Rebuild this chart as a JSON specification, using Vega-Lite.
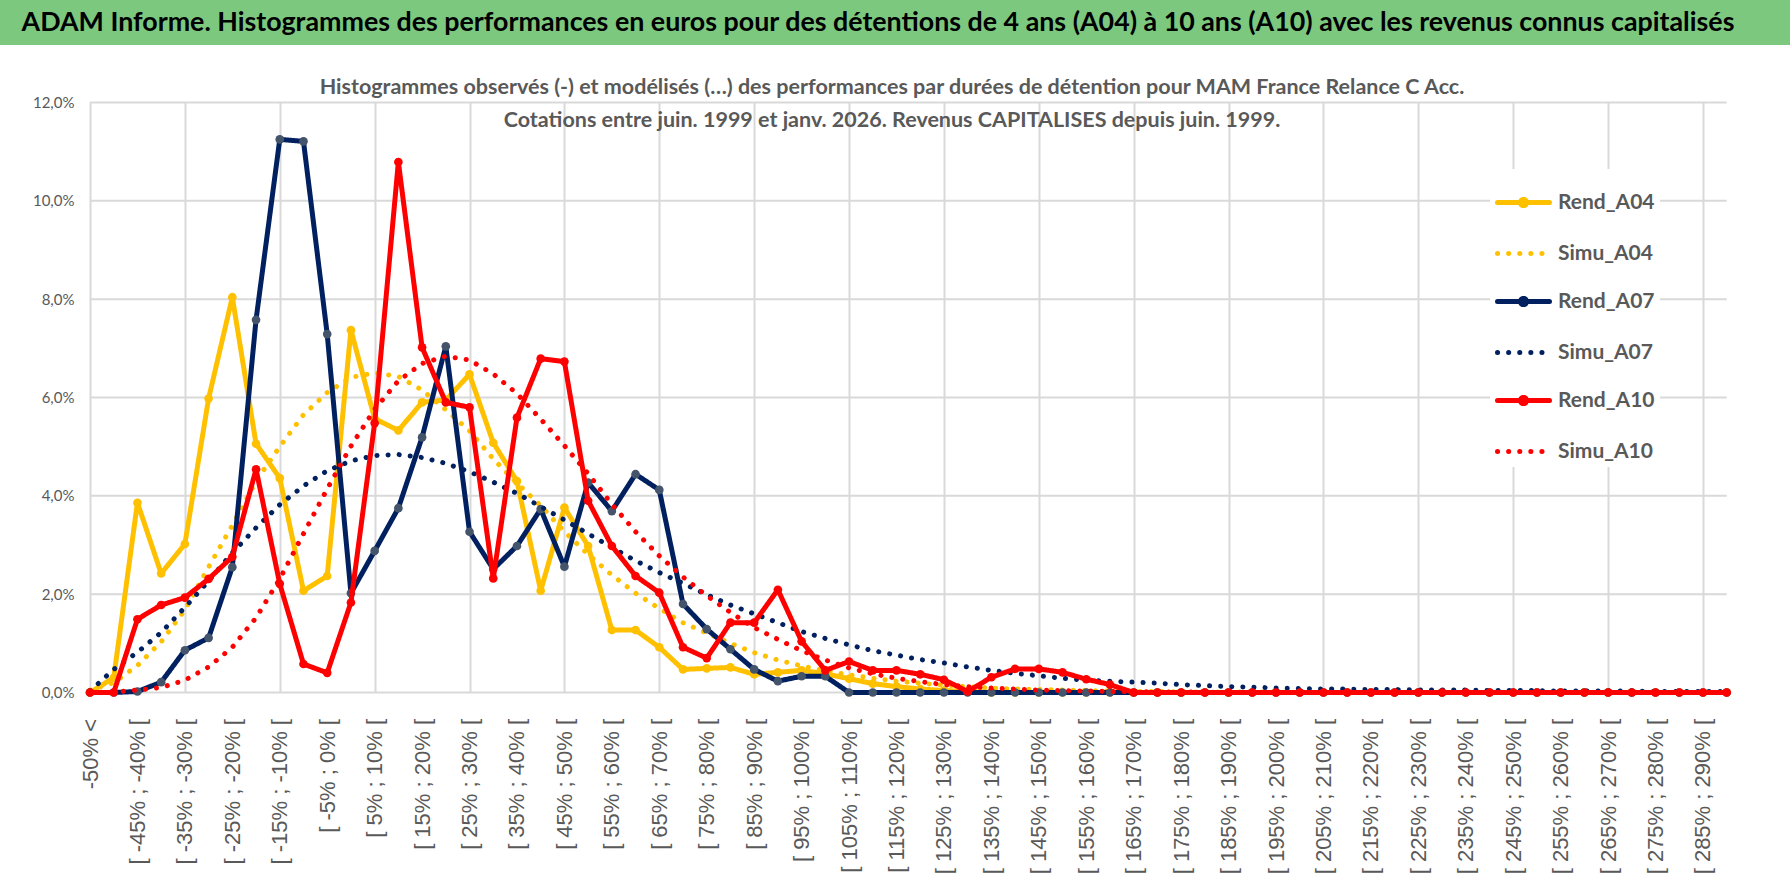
{
  "$schema": "https://vega.github.io/schema/vega-lite/v6.json",
  "background": "white",
  "padding": 0,
  "spacing": 31.5,
  "config": {"view": {"stroke": null}},
  "vconcat": [
    {
      "width": 1790,
      "height": 45,
      "view": {"fill": "#7DC87F", "stroke": null},
      "data": {"values": [{"t": "ADAM Informe. Histogrammes des performances en euros pour des détentions de 4 ans (A04) à 10 ans (A10) avec les revenus connus capitalisés"}]},
      "mark": {"type": "text", "font": "Lato", "fontSize": 26.8, "fontWeight": "bold", "color": "#000000", "align": "center", "baseline": "middle", "dx": -17},
      "encoding": {"text": {"field": "t", "type": "nominal"}}
    },
    {
      "width": 1790,
      "height": 590,
      "title": {
        "text": ["Histogrammes observés (-) et modélisés (…) des performances par durées de détention pour MAM France Relance C Acc.", "Cotations entre juin. 1999 et janv. 2026. Revenus CAPITALISES depuis juin. 1999."],
        "font": "Lato", "fontSize": 21.5, "fontWeight": "bold", "color": "#595959",
        "lineHeight": 33, "offset": -35.5, "frame": "group", "anchor": "middle", "dx": -3
      },
      "encoding": {
        "x": {
          "field": "c", "type": "nominal",
          "sort": ["-50% <","[ -50% ; -45% [","[ -45% ; -40% [","[ -40% ; -35% [","[ -35% ; -30% [","[ -30% ; -25% [","[ -25% ; -20% [","[ -20% ; -15% [","[ -15% ; -10% [","[ -10% ; -5% [","[ -5% ; 0% [","[ 0% ; 5% [","[ 5% ; 10% [","[ 10% ; 15% [","[ 15% ; 20% [","[ 20% ; 25% [","[ 25% ; 30% [","[ 30% ; 35% [","[ 35% ; 40% [","[ 40% ; 45% [","[ 45% ; 50% [","[ 50% ; 55% [","[ 55% ; 60% [","[ 60% ; 65% [","[ 65% ; 70% [","[ 70% ; 75% [","[ 75% ; 80% [","[ 80% ; 85% [","[ 85% ; 90% [","[ 90% ; 95% [","[ 95% ; 100% [","[ 100% ; 105% [","[ 105% ; 110% [","[ 110% ; 115% [","[ 115% ; 120% [","[ 120% ; 125% [","[ 125% ; 130% [","[ 130% ; 135% [","[ 135% ; 140% [","[ 140% ; 145% [","[ 145% ; 150% [","[ 150% ; 155% [","[ 155% ; 160% [","[ 160% ; 165% [","[ 165% ; 170% [","[ 170% ; 175% [","[ 175% ; 180% [","[ 180% ; 185% [","[ 185% ; 190% [","[ 190% ; 195% [","[ 195% ; 200% [","[ 200% ; 205% [","[ 205% ; 210% [","[ 210% ; 215% [","[ 215% ; 220% [","[ 220% ; 225% [","[ 225% ; 230% [","[ 230% ; 235% [","[ 235% ; 240% [","[ 240% ; 245% [","[ 245% ; 250% [","[ 250% ; 255% [","[ 255% ; 260% [","[ 260% ; 265% [","[ 265% ; 270% [","[ 270% ; 275% [","[ 275% ; 280% [","[ 280% ; 285% [","[ 285% ; 290% [","[ 290% ; 295% ["],
          "scale": {
            "type": "point", "padding": 0, "range": [90, 1726.7],
            "domain": ["-50% <","[ -50% ; -45% [","[ -45% ; -40% [","[ -40% ; -35% [","[ -35% ; -30% [","[ -30% ; -25% [","[ -25% ; -20% [","[ -20% ; -15% [","[ -15% ; -10% [","[ -10% ; -5% [","[ -5% ; 0% [","[ 0% ; 5% [","[ 5% ; 10% [","[ 10% ; 15% [","[ 15% ; 20% [","[ 20% ; 25% [","[ 25% ; 30% [","[ 30% ; 35% [","[ 35% ; 40% [","[ 40% ; 45% [","[ 45% ; 50% [","[ 50% ; 55% [","[ 55% ; 60% [","[ 60% ; 65% [","[ 65% ; 70% [","[ 70% ; 75% [","[ 75% ; 80% [","[ 80% ; 85% [","[ 85% ; 90% [","[ 90% ; 95% [","[ 95% ; 100% [","[ 100% ; 105% [","[ 105% ; 110% [","[ 110% ; 115% [","[ 115% ; 120% [","[ 120% ; 125% [","[ 125% ; 130% [","[ 130% ; 135% [","[ 135% ; 140% [","[ 140% ; 145% [","[ 145% ; 150% [","[ 150% ; 155% [","[ 155% ; 160% [","[ 160% ; 165% [","[ 165% ; 170% [","[ 170% ; 175% [","[ 175% ; 180% [","[ 180% ; 185% [","[ 185% ; 190% [","[ 190% ; 195% [","[ 195% ; 200% [","[ 200% ; 205% [","[ 205% ; 210% [","[ 210% ; 215% [","[ 215% ; 220% [","[ 220% ; 225% [","[ 225% ; 230% [","[ 230% ; 235% [","[ 235% ; 240% [","[ 240% ; 245% [","[ 245% ; 250% [","[ 250% ; 255% [","[ 255% ; 260% [","[ 260% ; 265% [","[ 265% ; 270% [","[ 270% ; 275% [","[ 275% ; 280% [","[ 280% ; 285% [","[ 285% ; 290% [","[ 290% ; 295% ["]
          },
          "axis": {
            "title": null, "labelAngle": 270, "labelFont": "Liberation Sans", "labelFontSize": 22, "labelColor": "#595959",
            "labelPadding": 26, "ticks": false, "tickSize": 0, "domain": false, "grid": true, "gridColor": "#D9D9D9", "gridWidth": 2,
            "gridOpacity": {"condition": {"test": "datum.value === '-50% <' || (parseInt(substring(datum.value, 2)) + 55) % 20 === 0", "value": 1}, "value": 0},
            "labelExpr": "datum.value === '-50% <' || (parseInt(substring(datum.value, 2)) + 55) % 10 === 0 ? datum.label : ''",
            "labelOverlap": false, "labelLimit": 300
          }
        },
        "y": {
          "field": "value", "type": "quantitative",
          "scale": {"domain": [0, 12], "nice": false},
          "axis": {
            "title": null, "values": [0, 2, 4, 6, 8, 10, 12], "offset": -90,
            "labelExpr": "replace(format(datum.value, '.1f'), '.', ',') + '%'",
            "labelFont": "Lato", "labelFontSize": 15, "labelColor": "#595959", "labelPadding": 16,
            "ticks": false, "domain": false, "grid": false
          }
        }
      },
      "layer": [
        {
          "data": {"values": [{"value": 0}, {"value": 2}, {"value": 4}, {"value": 6}, {"value": 8}, {"value": 10}, {"value": 12}]},
          "mark": {"type": "rule", "color": "#D9D9D9", "strokeWidth": 2},
          "encoding": {
            "x": {"datum": "-50% <", "type": "nominal"},
            "x2": {"datum": "[ 290% ; 295% ["}
          }
        },
        {
          "data": {"values": [
            {"c":"-50% <","Rend_A04":0,"Simu_A04":0.05,"Rend_A07":0,"Simu_A07":0.03,"Rend_A10":0,"Simu_A10":0},
            {"c":"[ -50% ; -45% [","Rend_A04":0.3,"Simu_A04":0.2,"Rend_A07":0,"Simu_A07":0.47,"Rend_A10":0,"Simu_A10":0.01},
            {"c":"[ -45% ; -40% [","Rend_A04":3.86,"Simu_A04":0.55,"Rend_A07":0.02,"Simu_A07":0.82,"Rend_A10":1.49,"Simu_A10":0.05},
            {"c":"[ -40% ; -35% [","Rend_A04":2.42,"Simu_A04":1.03,"Rend_A07":0.21,"Simu_A07":1.22,"Rend_A10":1.78,"Simu_A10":0.1},
            {"c":"[ -35% ; -30% [","Rend_A04":3.02,"Simu_A04":1.68,"Rend_A07":0.86,"Simu_A07":1.73,"Rend_A10":1.93,"Simu_A10":0.25},
            {"c":"[ -30% ; -25% [","Rend_A04":5.98,"Simu_A04":2.55,"Rend_A07":1.11,"Simu_A07":2.27,"Rend_A10":2.31,"Simu_A10":0.52},
            {"c":"[ -25% ; -20% [","Rend_A04":8.04,"Simu_A04":3.4,"Rend_A07":2.55,"Simu_A07":2.84,"Rend_A10":2.76,"Simu_A10":0.92},
            {"c":"[ -20% ; -15% [","Rend_A04":5.06,"Simu_A04":4.3,"Rend_A07":7.58,"Simu_A07":3.35,"Rend_A10":4.54,"Simu_A10":1.52},
            {"c":"[ -15% ; -10% [","Rend_A04":4.36,"Simu_A04":5.0,"Rend_A07":11.25,"Simu_A07":3.82,"Rend_A10":2.21,"Simu_A10":2.31},
            {"c":"[ -10% ; -5% [","Rend_A04":2.07,"Simu_A04":5.65,"Rend_A07":11.21,"Simu_A07":4.2,"Rend_A10":0.58,"Simu_A10":3.23},
            {"c":"[ -5% ; 0% [","Rend_A04":2.37,"Simu_A04":6.1,"Rend_A07":7.29,"Simu_A07":4.51,"Rend_A10":0.4,"Simu_A10":4.14},
            {"c":"[ 0% ; 5% [","Rend_A04":7.37,"Simu_A04":6.41,"Rend_A07":2.02,"Simu_A07":4.71,"Rend_A10":1.83,"Simu_A10":5.01},
            {"c":"[ 5% ; 10% [","Rend_A04":5.57,"Simu_A04":6.5,"Rend_A07":2.88,"Simu_A07":4.82,"Rend_A10":5.48,"Simu_A10":5.76},
            {"c":"[ 10% ; 15% [","Rend_A04":5.33,"Simu_A04":6.43,"Rend_A07":3.75,"Simu_A07":4.84,"Rend_A10":10.79,"Simu_A10":6.34},
            {"c":"[ 15% ; 20% [","Rend_A04":5.9,"Simu_A04":6.15,"Rend_A07":5.19,"Simu_A07":4.78,"Rend_A10":7.02,"Simu_A10":6.69},
            {"c":"[ 20% ; 25% [","Rend_A04":5.95,"Simu_A04":5.75,"Rend_A07":7.04,"Simu_A07":4.66,"Rend_A10":5.9,"Simu_A10":6.84},
            {"c":"[ 25% ; 30% [","Rend_A04":6.47,"Simu_A04":5.32,"Rend_A07":3.27,"Simu_A07":4.49,"Rend_A10":5.8,"Simu_A10":6.76},
            {"c":"[ 30% ; 35% [","Rend_A04":5.08,"Simu_A04":4.75,"Rend_A07":2.51,"Simu_A07":4.28,"Rend_A10":2.32,"Simu_A10":6.48},
            {"c":"[ 35% ; 40% [","Rend_A04":4.3,"Simu_A04":4.26,"Rend_A07":2.98,"Simu_A07":4.05,"Rend_A10":5.59,"Simu_A10":6.08},
            {"c":"[ 40% ; 45% [","Rend_A04":2.07,"Simu_A04":3.8,"Rend_A07":3.73,"Simu_A07":3.78,"Rend_A10":6.79,"Simu_A10":5.56},
            {"c":"[ 45% ; 50% [","Rend_A04":3.76,"Simu_A04":3.27,"Rend_A07":2.56,"Simu_A07":3.51,"Rend_A10":6.73,"Simu_A10":5.02},
            {"c":"[ 50% ; 55% [","Rend_A04":2.98,"Simu_A04":2.81,"Rend_A07":4.27,"Simu_A07":3.23,"Rend_A10":3.9,"Simu_A10":4.45},
            {"c":"[ 55% ; 60% [","Rend_A04":1.27,"Simu_A04":2.39,"Rend_A07":3.69,"Simu_A07":2.95,"Rend_A10":2.98,"Simu_A10":3.83},
            {"c":"[ 60% ; 65% [","Rend_A04":1.27,"Simu_A04":2.02,"Rend_A07":4.44,"Simu_A07":2.68,"Rend_A10":2.37,"Simu_A10":3.27},
            {"c":"[ 65% ; 70% [","Rend_A04":0.92,"Simu_A04":1.71,"Rend_A07":4.12,"Simu_A07":2.44,"Rend_A10":2.03,"Simu_A10":2.78},
            {"c":"[ 70% ; 75% [","Rend_A04":0.47,"Simu_A04":1.42,"Rend_A07":1.8,"Simu_A07":2.22,"Rend_A10":0.92,"Simu_A10":2.35},
            {"c":"[ 75% ; 80% [","Rend_A04":0.49,"Simu_A04":1.21,"Rend_A07":1.29,"Simu_A07":1.99,"Rend_A10":0.7,"Simu_A10":1.97},
            {"c":"[ 80% ; 85% [","Rend_A04":0.51,"Simu_A04":1.0,"Rend_A07":0.88,"Simu_A07":1.78,"Rend_A10":1.42,"Simu_A10":1.63},
            {"c":"[ 85% ; 90% [","Rend_A04":0.37,"Simu_A04":0.81,"Rend_A07":0.47,"Simu_A07":1.6,"Rend_A10":1.42,"Simu_A10":1.32},
            {"c":"[ 90% ; 95% [","Rend_A04":0.41,"Simu_A04":0.66,"Rend_A07":0.23,"Simu_A07":1.42,"Rend_A10":2.09,"Simu_A10":1.08},
            {"c":"[ 95% ; 100% [","Rend_A04":0.45,"Simu_A04":0.54,"Rend_A07":0.33,"Simu_A07":1.24,"Rend_A10":1.04,"Simu_A10":0.85},
            {"c":"[ 100% ; 105% [","Rend_A04":0.38,"Simu_A04":0.44,"Rend_A07":0.33,"Simu_A07":1.1,"Rend_A10":0.45,"Simu_A10":0.66},
            {"c":"[ 105% ; 110% [","Rend_A04":0.28,"Simu_A04":0.36,"Rend_A07":0,"Simu_A07":0.97,"Rend_A10":0.63,"Simu_A10":0.5},
            {"c":"[ 110% ; 115% [","Rend_A04":0.18,"Simu_A04":0.29,"Rend_A07":0,"Simu_A07":0.85,"Rend_A10":0.45,"Simu_A10":0.38},
            {"c":"[ 115% ; 120% [","Rend_A04":0.12,"Simu_A04":0.23,"Rend_A07":0,"Simu_A07":0.76,"Rend_A10":0.45,"Simu_A10":0.29},
            {"c":"[ 120% ; 125% [","Rend_A04":0.07,"Simu_A04":0.19,"Rend_A07":0,"Simu_A07":0.67,"Rend_A10":0.37,"Simu_A10":0.22},
            {"c":"[ 125% ; 130% [","Rend_A04":0.04,"Simu_A04":0.15,"Rend_A07":0,"Simu_A07":0.6,"Rend_A10":0.26,"Simu_A10":0.16},
            {"c":"[ 130% ; 135% [","Rend_A04":0.02,"Simu_A04":0.12,"Rend_A07":0,"Simu_A07":0.52,"Rend_A10":0.02,"Simu_A10":0.12},
            {"c":"[ 135% ; 140% [","Rend_A04":0,"Simu_A04":0.09,"Rend_A07":0,"Simu_A07":0.45,"Rend_A10":0.31,"Simu_A10":0.09},
            {"c":"[ 140% ; 145% [","Rend_A04":0,"Simu_A04":0.07,"Rend_A07":0,"Simu_A07":0.39,"Rend_A10":0.48,"Simu_A10":0.07},
            {"c":"[ 145% ; 150% [","Rend_A04":0,"Simu_A04":0.06,"Rend_A07":0,"Simu_A07":0.34,"Rend_A10":0.48,"Simu_A10":0.05},
            {"c":"[ 150% ; 155% [","Rend_A04":0,"Simu_A04":0.05,"Rend_A07":0,"Simu_A07":0.29,"Rend_A10":0.41,"Simu_A10":0.04},
            {"c":"[ 155% ; 160% [","Rend_A04":0,"Simu_A04":0.04,"Rend_A07":0,"Simu_A07":0.25,"Rend_A10":0.27,"Simu_A10":0.03},
            {"c":"[ 160% ; 165% [","Rend_A04":0,"Simu_A04":0.03,"Rend_A07":0,"Simu_A07":0.23,"Rend_A10":0.16,"Simu_A10":0.02},
            {"c":"[ 165% ; 170% [","Rend_A04":0,"Simu_A04":0.02,"Rend_A07":0,"Simu_A07":0.21,"Rend_A10":0,"Simu_A10":0.02},
            {"c":"[ 170% ; 175% [","Rend_A04":0,"Simu_A04":0.02,"Rend_A07":0,"Simu_A07":0.19,"Rend_A10":0,"Simu_A10":0.01},
            {"c":"[ 175% ; 180% [","Rend_A04":0,"Simu_A04":0.01,"Rend_A07":0,"Simu_A07":0.16,"Rend_A10":0,"Simu_A10":0.01},
            {"c":"[ 180% ; 185% [","Rend_A04":0,"Simu_A04":0.01,"Rend_A07":0,"Simu_A07":0.14,"Rend_A10":0,"Simu_A10":0.01},
            {"c":"[ 185% ; 190% [","Rend_A04":0,"Simu_A04":0.01,"Rend_A07":0,"Simu_A07":0.12,"Rend_A10":0,"Simu_A10":0},
            {"c":"[ 190% ; 195% [","Rend_A04":0,"Simu_A04":0.01,"Rend_A07":0,"Simu_A07":0.11,"Rend_A10":0,"Simu_A10":0},
            {"c":"[ 195% ; 200% [","Rend_A04":0,"Simu_A04":0.01,"Rend_A07":0,"Simu_A07":0.09,"Rend_A10":0,"Simu_A10":0},
            {"c":"[ 200% ; 205% [","Rend_A04":0,"Simu_A04":0,"Rend_A07":0,"Simu_A07":0.08,"Rend_A10":0,"Simu_A10":0},
            {"c":"[ 205% ; 210% [","Rend_A04":0,"Simu_A04":0,"Rend_A07":0,"Simu_A07":0.07,"Rend_A10":0,"Simu_A10":0},
            {"c":"[ 210% ; 215% [","Rend_A04":0,"Simu_A04":0,"Rend_A07":0,"Simu_A07":0.07,"Rend_A10":0,"Simu_A10":0},
            {"c":"[ 215% ; 220% [","Rend_A04":0,"Simu_A04":0,"Rend_A07":0,"Simu_A07":0.06,"Rend_A10":0,"Simu_A10":0},
            {"c":"[ 220% ; 225% [","Rend_A04":0,"Simu_A04":0,"Rend_A07":0,"Simu_A07":0.06,"Rend_A10":0,"Simu_A10":0},
            {"c":"[ 225% ; 230% [","Rend_A04":0,"Simu_A04":0,"Rend_A07":0,"Simu_A07":0.05,"Rend_A10":0,"Simu_A10":0},
            {"c":"[ 230% ; 235% [","Rend_A04":0,"Simu_A04":0,"Rend_A07":0,"Simu_A07":0.05,"Rend_A10":0,"Simu_A10":0},
            {"c":"[ 235% ; 240% [","Rend_A04":0,"Simu_A04":0,"Rend_A07":0,"Simu_A07":0.05,"Rend_A10":0,"Simu_A10":0},
            {"c":"[ 240% ; 245% [","Rend_A04":0,"Simu_A04":0,"Rend_A07":0,"Simu_A07":0.04,"Rend_A10":0,"Simu_A10":0},
            {"c":"[ 245% ; 250% [","Rend_A04":0,"Simu_A04":0,"Rend_A07":0,"Simu_A07":0.04,"Rend_A10":0,"Simu_A10":0},
            {"c":"[ 250% ; 255% [","Rend_A04":0,"Simu_A04":0,"Rend_A07":0,"Simu_A07":0.04,"Rend_A10":0,"Simu_A10":0},
            {"c":"[ 255% ; 260% [","Rend_A04":0,"Simu_A04":0,"Rend_A07":0,"Simu_A07":0.03,"Rend_A10":0,"Simu_A10":0},
            {"c":"[ 260% ; 265% [","Rend_A04":0,"Simu_A04":0,"Rend_A07":0,"Simu_A07":0.03,"Rend_A10":0,"Simu_A10":0},
            {"c":"[ 265% ; 270% [","Rend_A04":0,"Simu_A04":0,"Rend_A07":0,"Simu_A07":0.03,"Rend_A10":0,"Simu_A10":0},
            {"c":"[ 270% ; 275% [","Rend_A04":0,"Simu_A04":0,"Rend_A07":0,"Simu_A07":0.03,"Rend_A10":0,"Simu_A10":0},
            {"c":"[ 275% ; 280% [","Rend_A04":0,"Simu_A04":0,"Rend_A07":0,"Simu_A07":0.02,"Rend_A10":0,"Simu_A10":0},
            {"c":"[ 280% ; 285% [","Rend_A04":0,"Simu_A04":0,"Rend_A07":0,"Simu_A07":0.02,"Rend_A10":0,"Simu_A10":0},
            {"c":"[ 285% ; 290% [","Rend_A04":0,"Simu_A04":0,"Rend_A07":0,"Simu_A07":0.02,"Rend_A10":0,"Simu_A10":0},
            {"c":"[ 290% ; 295% [","Rend_A04":0,"Simu_A04":0,"Rend_A07":0,"Simu_A07":0.02,"Rend_A10":0,"Simu_A10":0}
          ]},
          "transform": [{"fold": ["Rend_A04","Simu_A04","Rend_A07","Simu_A07","Rend_A10","Simu_A10"], "as": ["series","value"]}],
          "encoding": {
            "color": {
              "field": "series", "type": "nominal",
              "scale": {"domain": ["Rend_A04","Simu_A04","Rend_A07","Simu_A07","Rend_A10","Simu_A10"], "range": ["#FFC000","#FFC000","#002060","#002060","#FF0000","#FF0000"]},
              "legend": {
                "title": null, "orient": "none", "legendX": 1490, "legendY": 169, "padding": 5, "fillColor": "white",
                "symbolType": "stroke", "symbolSize": 2704, "symbolStrokeWidth": 5,
                "labelFont": "Lato", "labelFontSize": 21, "labelFontWeight": "bold", "labelColor": "#595959",
                "labelOffset": 6, "rowPadding": 9,
                "labelExpr": "datum.label + '\u00a0\u00a0\u00a0\u00a0\u00a0\u00a0\u00a0\u00a0\u00a0\u00a0\u00a0\u00a0\u00a0\u00a0\u00a0\u00a0'",
                "encode": {"symbols": {"update": {
                  "shape": {"signal": "indexof(datum.value, 'Rend') === 0 ? 'M-1,0L1,0M0.12,0A0.12,0.12,0,1,1,-0.12,0A0.12,0.12,0,1,1,0.12,0' : 'stroke'"},
                  "fill": {"signal": "scale('color', datum.value)"},
                  "strokeCap": {"value": "round"}
                }}}
              }
            },
            "strokeDash": {
              "field": "series", "type": "nominal",
              "scale": {"domain": ["Rend_A04","Simu_A04","Rend_A07","Simu_A07","Rend_A10","Simu_A10"], "range": [[1,0],[0.1,11],[1,0],[0.1,11],[1,0],[0.1,11]]},
              "legend": {
                "title": null, "orient": "none", "legendX": 1490, "legendY": 169, "padding": 5, "fillColor": "white",
                "symbolType": "stroke", "symbolSize": 2704, "symbolStrokeWidth": 5,
                "labelFont": "Lato", "labelFontSize": 21, "labelFontWeight": "bold", "labelColor": "#595959",
                "labelOffset": 6, "rowPadding": 9,
                "labelExpr": "datum.label + '\u00a0\u00a0\u00a0\u00a0\u00a0\u00a0\u00a0\u00a0\u00a0\u00a0\u00a0\u00a0\u00a0\u00a0\u00a0\u00a0'",
                "encode": {"symbols": {"update": {
                  "shape": {"signal": "indexof(datum.value, 'Rend') === 0 ? 'M-1,0L1,0M0.12,0A0.12,0.12,0,1,1,-0.12,0A0.12,0.12,0,1,1,0.12,0' : 'stroke'"},
                  "fill": {"signal": "scale('color', datum.value)"},
                  "strokeCap": {"value": "round"}
                }}}
              }
            }
          },
          "layer": [
            {"transform": [{"filter": "datum.series === 'Rend_A04'"}], "mark": {"type": "line", "strokeWidth": 5, "strokeCap": "round", "strokeJoin": "round"}},
            {"transform": [{"filter": "datum.series === 'Rend_A04'"}], "mark": {"type": "circle", "size": 75, "opacity": 1}, "encoding": {"color": {"value": "#FFC000"}, "strokeDash": {"value": [1, 0]}}},
            {"transform": [{"filter": "datum.series === 'Simu_A04'"}], "mark": {"type": "line", "strokeWidth": 5, "strokeCap": "round", "strokeJoin": "round"}},
            {"transform": [{"filter": "datum.series === 'Rend_A07'"}], "mark": {"type": "line", "strokeWidth": 5, "strokeCap": "round", "strokeJoin": "round"}},
            {"transform": [{"filter": "datum.series === 'Rend_A07'"}], "mark": {"type": "circle", "size": 75, "opacity": 1}, "encoding": {"color": {"value": "#44546A"}, "strokeDash": {"value": [1, 0]}}},
            {"transform": [{"filter": "datum.series === 'Simu_A07'"}], "mark": {"type": "line", "strokeWidth": 5, "strokeCap": "round", "strokeJoin": "round"}},
            {"transform": [{"filter": "datum.series === 'Rend_A10'"}], "mark": {"type": "line", "strokeWidth": 5, "strokeCap": "round", "strokeJoin": "round"}},
            {"transform": [{"filter": "datum.series === 'Rend_A10'"}], "mark": {"type": "circle", "size": 75, "opacity": 1}, "encoding": {"color": {"value": "#FF0000"}, "strokeDash": {"value": [1, 0]}}},
            {"transform": [{"filter": "datum.series === 'Simu_A10'"}], "mark": {"type": "line", "strokeWidth": 5, "strokeCap": "round", "strokeJoin": "round"}}
          ]
        }
      ]
    }
  ]
}
